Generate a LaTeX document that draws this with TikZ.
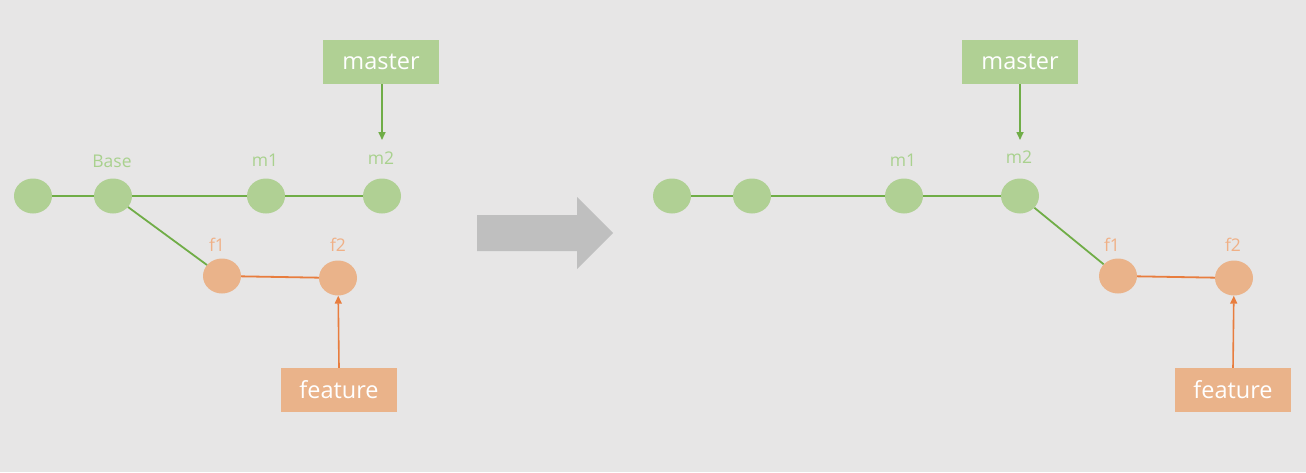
\documentclass[tikz,border=0pt]{standalone}
\usepackage{fontspec}
\setmainfont{Open Sans}
\usetikzlibrary{shapes.geometric,arrows.meta}
\definecolor{bg}{HTML}{E7E6E6}
\definecolor{gfill}{HTML}{B0D094}
\definecolor{gline}{HTML}{70AD47}
\definecolor{glab}{HTML}{A9D18E}
\definecolor{ofill}{HTML}{EAB38A}
\definecolor{oline}{HTML}{E87D3E}
\definecolor{olab}{HTML}{F0B086}
\definecolor{bigarrow}{HTML}{BFBFBF}
\tikzset{
  gcommit/.style={ellipse,fill=gfill,minimum width=38pt,minimum height=35pt,inner sep=0pt},
  ocommit/.style={ellipse,fill=ofill,minimum width=38pt,minimum height=35pt,inner sep=0pt},
  glabel/.style={text=glab,font=\fontsize{17.5}{19}\selectfont,inner sep=0pt},
  olabel/.style={text=olab,font=\fontsize{17.5}{19}\selectfont,inner sep=0pt},
  branchbox/.style={minimum width=116pt,minimum height=44pt,inner sep=0pt,text=white,font=\fontsize{23.5}{25}\selectfont},
  gconn/.style={draw=gline,line width=1.8pt},
  oconn/.style={draw=oline,line width=1.8pt},
  ptr/.style={line width=1.6pt,-{Triangle[length=8pt,width=7pt]}}
}
\begin{document}
\begin{tikzpicture}[x=1pt,y=-1pt]
\fill[bg] (0,0) rectangle (1306,472);
\useasboundingbox (0,0) rectangle (1306,472);
% ---------- left ----------
\node[gcommit] (L0) at (33,196) {};
\node[gcommit] (LB) at (113,196) {};
\node[gcommit] (Lm1) at (266,196) {};
\node[gcommit] (Lm2) at (382,196) {};
\node[ocommit] (Lf1) at (222,276) {};
\node[ocommit] (Lf2) at (338,278) {};
\node[glabel] (LBl) at (112,161) {Base};
\node[glabel] (Lm1l) at (265,160) {m1};
\node[glabel] (Lm2l) at (381,158) {m2};
\node[olabel] (Lf1l) at (217,245) {f1};
\node[olabel] (Lf2l) at (338,245) {f2};
\node[branchbox,fill=gfill] (Lmaster) at (381,62) {master};
\node[branchbox,fill=ofill] (Lfeature) at (339,390) {feature};
\coordinate (Ltip) at (382,140);
\draw[gconn] (L0) -- (LB);
\draw[gconn] (LB) -- (Lm1);
\draw[gconn] (Lm1) -- (Lm2);
\draw[gconn] (LB) -- (Lf1);
\draw[oconn] (Lf1) -- (Lf2);
\draw[ptr,gline] (Lmaster.south -| Ltip) -- (Ltip);
\draw[ptr,oline] (Lfeature.north) -- (Lf2);
% ---------- big arrow ----------
\fill[bigarrow] (477,215) -- (577,215) -- (577,197) -- (613,233) -- (577,269) -- (577,251) -- (477,251) -- cycle;
% ---------- right ----------
\node[gcommit] (R0) at (672,196) {};
\node[gcommit] (RB) at (752,196) {};
\node[gcommit] (Rm1) at (904,196) {};
\node[gcommit] (Rm2) at (1020,196) {};
\node[ocommit] (Rf1) at (1118,276) {};
\node[ocommit] (Rf2) at (1234,278) {};
\node[glabel] (Rm1l) at (903,160) {m1};
\node[glabel] (Rm2l) at (1019,157) {m2};
\node[olabel] (Rf1l) at (1112,245) {f1};
\node[olabel] (Rf2l) at (1233,245) {f2};
\node[branchbox,fill=gfill] (Rmaster) at (1020,62) {master};
\node[branchbox,fill=ofill] (Rfeature) at (1233,390) {feature};
\coordinate (Rtip) at (1020,140);
\draw[gconn] (R0) -- (RB);
\draw[gconn] (RB) -- (Rm1);
\draw[gconn] (Rm1) -- (Rm2);
\draw[gconn] (Rm2) -- (Rf1);
\draw[oconn] (Rf1) -- (Rf2);
\draw[ptr,gline] (Rmaster.south -| Rtip) -- (Rtip);
\draw[ptr,oline] (Rfeature.north) -- (Rf2);
\end{tikzpicture}
\end{document}
